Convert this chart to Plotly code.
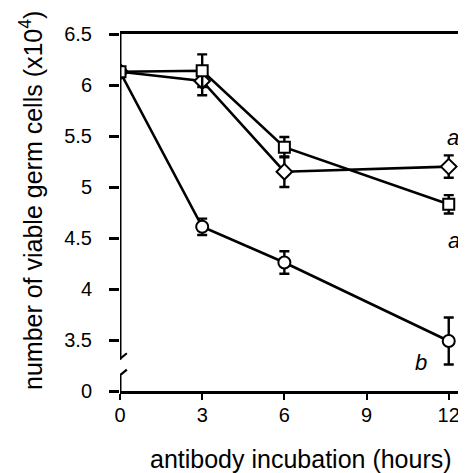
import plotly.graph_objects as go

hours = [0, 3, 6, 12]
square_vals = [6.13, 6.14, 5.39, 4.83]
square_err = [0, 0.16, 0.10, 0.09]
diamond_vals = [6.13, 6.04, 5.15, 5.20]
diamond_err = [0, 0.14, 0.15, 0.11]
circle_vals = [6.13, 4.61, 4.26, 3.49]
circle_err = [0, 0.08, 0.11, 0.23]

y_tickvals = [3.0, 3.5, 4.0, 4.5, 5.0, 5.5, 6.0, 6.5]
y_ticktext = ["0", "3.5", "4", "4.5", "5", "5.5", "6", "6.5"]
x_tickvals = [0, 3, 6, 9, 12]

FONT = "Liberation Sans, Arial, sans-serif"

# figure placed at (8,8) by the page body margin
W, H = 458, 465
L, R, T, B = 112, 0, 26, 82
PW, PH = W - L - R, H - T - B

def px(xf):
    return (xf - 8 - L) / PW

def py(yf):
    return (H - B - (yf - 8)) / PH

fig = go.Figure()

def add_series(vals, err, symbol, size):
    fig.add_trace(go.Scatter(
        x=hours, y=vals, mode="lines+markers",
        line=dict(color="black", width=2.6),
        marker=dict(symbol=symbol, size=size, color="white",
                    line=dict(color="black", width=2)),
        error_y=dict(type="data", array=err, visible=True,
                     color="black", thickness=2.4, width=5),
        showlegend=False,
    ))

add_series(circle_vals, circle_err, "circle", 12)
add_series(diamond_vals, diamond_err, "diamond", 12)
add_series(square_vals, square_err, "square", 11)

# broken y axis line
shapes = [
    dict(type="line", xref="x", yref="y", x0=0, x1=0, y0=3.0, y1=3.15,
         line=dict(color="black", width=3)),
    dict(type="line", xref="x", yref="y", x0=0, x1=0, y0=3.31, y1=6.5,
         line=dict(color="black", width=3)),
    dict(type="line", xref="x", yref="y", x0=-0.2, x1=0.25, y0=3.11, y1=3.21,
         line=dict(color="black", width=2.2)),
    dict(type="line", xref="x", yref="y", x0=-0.2, x1=0.25, y0=3.27, y1=3.37,
         line=dict(color="black", width=2.2)),
]

letter_font = dict(size=22, color="black", family=FONT)
annotations = [
    dict(x=12.14, y=5.49, text="<i>a</i>", showarrow=False, xref="x", yref="y",
         font=letter_font),
    dict(x=12.18, y=4.48, text="<i>a</i>", showarrow=False, xref="x", yref="y",
         font=letter_font),
    dict(x=11.0, y=3.28, text="<i>b</i>", showarrow=False, xref="x", yref="y",
         font=letter_font),
    dict(x=px(31), y=py(201), xref="paper", yref="paper", showarrow=False,
         xanchor="center", yanchor="middle",
         text="number of viable germ cells (x10<sup>4</sup>)", textangle=-90,
         font=dict(size=25, color="black", family=FONT)),
    dict(x=px(300.5), y=py(459), xref="paper", yref="paper", showarrow=False,
         xanchor="center", yanchor="middle",
         text="antibody incubation (hours)",
         font=dict(size=25, color="black", family=FONT)),
]

fig.update_layout(
    width=W, height=H,
    margin=dict(l=L, r=R, t=T, b=B),
    paper_bgcolor="white", plot_bgcolor="white",
    font=dict(family=FONT, size=20, color="black"),
    shapes=shapes, annotations=annotations,
    xaxis=dict(range=[0, 12.63], tickvals=x_tickvals, showgrid=False,
               zeroline=False, showline=True, linecolor="black", linewidth=3,
               mirror=True, ticks="outside", ticklen=6, tickwidth=2,
               tickcolor="black", tickfont=dict(size=20),
               ticklabelstandoff=-2),
    yaxis=dict(range=[3.0, 6.5], tickvals=y_tickvals, ticktext=y_ticktext,
               showgrid=False, zeroline=False, showline=False,
               ticks="outside", ticklen=10, tickwidth=2.5, tickcolor="black",
               tickfont=dict(size=20), ticklabelstandoff=13),
)

fig.write_html("out.html")
